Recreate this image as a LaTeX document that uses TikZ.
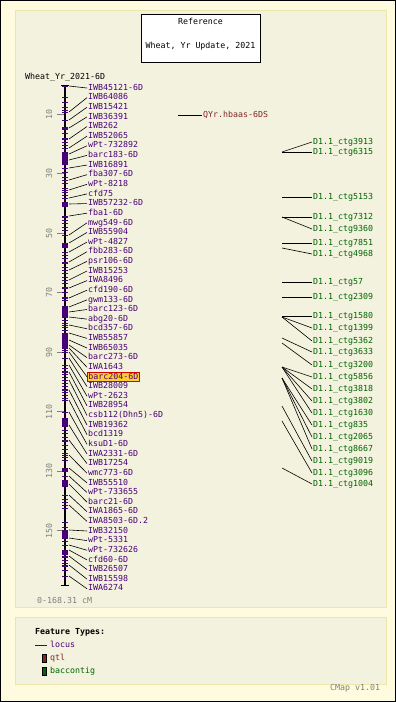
\documentclass[tikz,border=0pt]{standalone}
\usepackage{fontspec}
\setmonofont{DejaVu Sans Mono}
\definecolor{outerbg}{RGB}{255,251,222}
\definecolor{panelbg}{RGB}{243,242,222}
\definecolor{panelln}{RGB}{236,230,170}
\definecolor{locuscol}{RGB}{72,0,120}
\definecolor{qtlcol}{RGB}{128,40,40}
\definecolor{ctgcol}{RGB}{0,100,0}
\definecolor{hlfill}{RGB}{255,204,51}
\begin{document}
\begin{tikzpicture}[x=1pt,y=-1pt,
  lbl/.style={font=\ttfamily\fontsize{8.3}{9}\selectfont,inner sep=1pt,
    text height=6pt,text depth=1.6pt,anchor=west},
  locus/.style={lbl,text=locuscol},
  hilite/.style={locus,fill=hlfill,draw=red!85!black,line width=0.8pt},
  qtl/.style={lbl,text=qtlcol},
  ctg/.style={lbl,text=ctgcol},
  conn/.style={black,line width=0.6pt},
  mtick/.style={locuscol,line width=0.9pt},
  axis/.style={gray,line width=0.6pt},
  panel/.style={draw=panelln,fill=panelbg,line width=1pt}]
\useasboundingbox (0,0) rectangle (396,702);
\fill[outerbg] (0,0) rectangle (396,702);
\draw[line width=1pt] (0.5,0.5) rectangle (395.5,701.5);
\draw[panel] (15,10) rectangle (386,607);
\draw[panel] (15,617) rectangle (386,684);
% title box
\node[draw,fill=white,line width=0.8pt,minimum width=119pt,minimum height=48pt] (ref) at (200.5,38) {};
\node[lbl,anchor=center] (reft) at (200.5,22) {Reference};
\node[lbl,anchor=center] (refs) at (200.5,46) {Wheat, Yr Update, 2021};
\node[lbl] (mapname) at (24,77) {Wheat\_Yr\_2021-6D};
% chromosome bar and cM axis
\draw[line width=2pt] (65,85) -- (65,585);
\draw[line width=1pt] (61,85) -- (69,85) (61,585) -- (69,585);
\foreach \c in {10,30,...,150} {
  \draw[axis] (57,{84.3+2.975*\c}) -- (64,{84.3+2.975*\c});
  \node[lbl,text=gray,rotate=90,anchor=center] at (50,{84.3+2.975*\c}) {\c};
}
\foreach \t in {97,102,107,110,133,138,142,145,148,168,172,177,180,183,188,192,195,198,
  217,220,223,227,230,252,255,258,263,267,270,273,277,280,283,287,292,297,300,320,323,327,330,
  337,350,365,368,371,374,377,380,383,386,389,392,395,398,430,433,437,441,445,449,453,457,
  460,495,499,502,508,522,527,541,545,557,560,563,566,570}
  \draw[mtick] (62,\t) -- (68,\t);
\foreach \a/\b in {127/130,152/165,202/207,243/248,306/317,333/348,418/427,468/472,480/487,
  530/538,550/555}
  \fill[locuscol] (62,\a) rectangle (68,\b);
% loci
\foreach \lab/\ay [count=\i] in {IWB45121-6D/86,IWB64086/112,IWB15421/120,IWB36391/128,
  IWB262/139,IWB52065/148,wPt-732892/154,barc183-6D/160,IWB16891/168,fba307-6D/180,
  wPt-8218/190,cfd75/198,IWB57232-6D/204,fba1-6D/216,mwg549-6D/235,IWB55904/243,
  wPt-4827/252,fbb283-6D/262,psr106-6D/270,IWB15253/280,IWA8496/288,cfd190-6D/298,
  gwm133-6D/307,barc123-6D/312,abg20-6D/317,bcd357-6D/325,IWB55857/333,IWB65035/340,
  barc273-6D/345,IWA1643/348,barc204-6D/352,IWB28009/358,wPt-2623/365,IWB28954/372,
  csb112(Dhn5)-6D/380,IWB19362/390,bcd1319/400,ksuD1-6D/412,IWA2331-6D/425,IWB17254/440,
  wmc773-6D/455,IWB55510/468,wPt-733655/476,barc21-6D/484,IWA1865-6D/495,IWA8503-6D.2/505,
  IWB32150/530,wPt-5331/538,wPt-732626/545,cfd60-6D/550,IWB26507/556,IWB15598/565,
  IWA6274/576} {
  \ifnum\i=31 \def\sty{hilite}\else\def\sty{locus}\fi
  \coordinate (a\i) at (69,\ay);
  \draw[mtick] (62,\ay) -- (68,\ay);
  \node[\sty] (m\i) at (87,{88+9.63*(\i-1)}) {\lab};
  \draw[conn] (a\i) -- (m\i.west);
}
\node[lbl,text=gray] (len) at (36,601) {0-168.31 cM};
% qtl
\coordinate (q0) at (178,115);
\node[qtl] (q1) at (202,115) {QYr.hbaas-6DS};
\draw[conn] (q0) -- (q1.west);
% bac contigs
\foreach \lab/\ly/\ay [count=\i] in {D1.1\_ctg3913/142/152,D1.1\_ctg6315/152/152,
  D1.1\_ctg5153/197/197,D1.1\_ctg7312/217/217,D1.1\_ctg9360/229/217,D1.1\_ctg7851/243/243,
  D1.1\_ctg4968/254/248,D1.1\_ctg57/282/282,D1.1\_ctg2309/297/297,D1.1\_ctg1580/316/316,
  D1.1\_ctg1399/328/317,D1.1\_ctg5362/341/317,D1.1\_ctg3633/352/338,D1.1\_ctg3200/365/343,
  D1.1\_ctg5856/377/367,D1.1\_ctg3818/389/367,D1.1\_ctg3802/401/367,D1.1\_ctg1630/413/367,
  D1.1\_ctg835/425/378,D1.1\_ctg2065/437/378,D1.1\_ctg8667/449/378,D1.1\_ctg9019/461/406,
  D1.1\_ctg3096/473/421,D1.1\_ctg1004/484/468} {
  \coordinate (c\i) at (282,\ay);
  \node[ctg] (g\i) at (312,\ly) {\lab};
  \draw[conn] (c\i) -- (g\i.west);
}
% legend
\node[lbl,font=\ttfamily\bfseries\fontsize{8.3}{9}\selectfont] (ft) at (34,632) {Feature Types:};
\draw[locuscol,line width=1pt] (35,645) -- (47,645);
\node[locus] (lg1) at (49,645) {locus};
\draw[fill=qtlcol,line width=0.6pt] (42,654) rectangle (46,662);
\node[qtl] (lg2) at (49,658) {qtl};
\draw[fill=ctgcol,line width=0.6pt] (42,667) rectangle (46,675);
\node[ctg] (lg3) at (49,671) {baccontig};
\node[lbl,text=gray] (ver) at (329,688) {CMap v1.01};
\end{tikzpicture}
\end{document}
